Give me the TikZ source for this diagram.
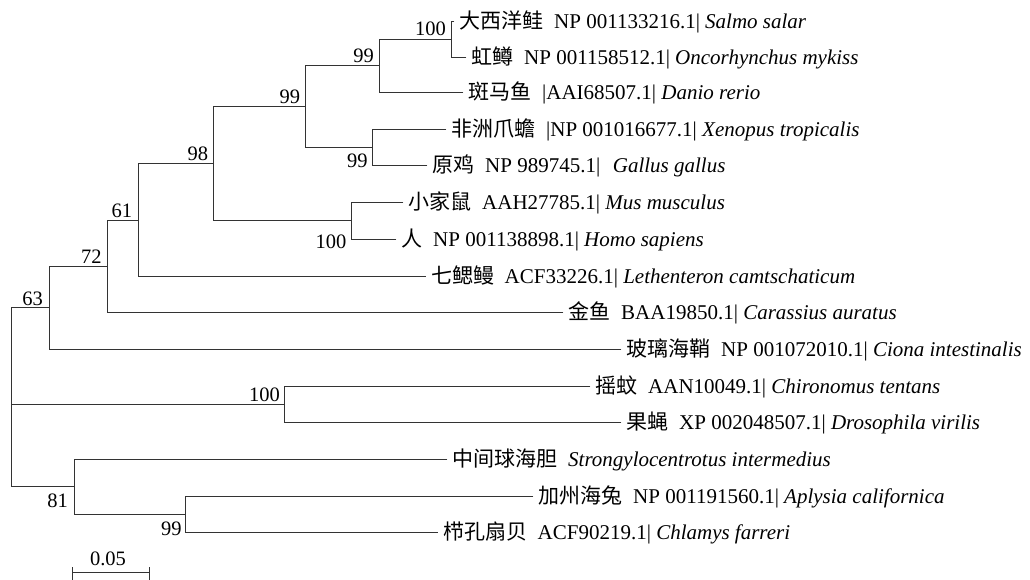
\documentclass[tikz,border=0pt]{standalone}
\usepackage{fontspec}
\setmainfont{Liberation Serif}
\newfontfamily\cjk{Noto Sans CJK SC}
\begin{document}
\begin{tikzpicture}[x=1pt,y=-1pt,
  branch/.style={line width=0.9pt, draw=black!80, line cap=rect},
  leaf/.style={anchor=base west, inner sep=0pt, font=\fontsize{21}{24}\selectfont, xshift=5.5pt, yshift=-7pt},
  boot/.style={anchor=base east, inner sep=0pt, font=\fontsize{20.5}{24}\selectfont}]
\useasboundingbox (0,0) rectangle (1030,579);
% internal nodes
\coordinate (A) at (451,39);
\coordinate (B) at (379,65.5);
\coordinate (D) at (372.7,147);
\coordinate (C) at (305.7,106);
\coordinate (F) at (351,220.5);
\coordinate (E) at (213.7,163.5);
\coordinate (G) at (138.3,220);
\coordinate (H) at (107.3,266);
\coordinate (I) at (49,307.5);
\coordinate (J) at (284,404);
\coordinate (L) at (185.7,514);
\coordinate (K) at (74,486.5);
\coordinate (R) at (11.5,404);
% leaves
\coordinate (l1) at (454,21);
\coordinate (l2) at (466,57);
\coordinate (l3) at (463,92);
\coordinate (l4) at (446,129);
\coordinate (l5) at (427,165);
\coordinate (l6) at (403,202);
\coordinate (l7) at (396,239);
\coordinate (l8) at (425.5,276);
\coordinate (l9) at (563,312);
\coordinate (l10) at (621,349);
\coordinate (l11) at (590,386);
\coordinate (l12) at (621,422);
\coordinate (l13) at (447,459);
\coordinate (l14) at (533,496);
\coordinate (l15) at (437.5,532);
% branches
\draw[branch] (A) |- (l1);
\draw[branch] (A) |- (l2);
\draw[branch] (B) |- (A);
\draw[branch] (B) |- (l3);
\draw[branch] (D) |- (l4);
\draw[branch] (D) |- (l5);
\draw[branch] (C) |- (B);
\draw[branch] (C) |- (D);
\draw[branch] (F) |- (l6);
\draw[branch] (F) |- (l7);
\draw[branch] (E) |- (C);
\draw[branch] (E) |- (F);
\draw[branch] (G) |- (E);
\draw[branch] (G) |- (l8);
\draw[branch] (H) |- (G);
\draw[branch] (H) |- (l9);
\draw[branch] (I) |- (H);
\draw[branch] (I) |- (l10);
\draw[branch] (J) |- (l11);
\draw[branch] (J) |- (l12);
\draw[branch] (L) |- (l14);
\draw[branch] (L) |- (l15);
\draw[branch] (K) |- (l13);
\draw[branch] (K) |- (L);
\draw[branch] (R) |- (I);
\draw[branch] (R) |- (J);
\draw[branch] (R) |- (K);
% leaf labels
\node[leaf] (t1) at (l1) {{\cjk 大西洋鲑}\hspace{0.5em}NP 001133216.1| \textit{Salmo salar}};
\node[leaf] (t2) at (l2) {{\cjk 虹鳟}\hspace{0.5em}NP 001158512.1| \textit{Oncorhynchus mykiss}};
\node[leaf] (t3) at (l3) {{\cjk 斑马鱼}\hspace{0.5em}|AAI68507.1| \textit{Danio rerio}};
\node[leaf] (t4) at (l4) {{\cjk 非洲爪蟾}\hspace{0.5em}|NP 001016677.1| \textit{Xenopus tropicalis}};
\node[leaf] (t5) at (l5) {{\cjk 原鸡}\hspace{0.5em}NP 989745.1|\hspace{0.6em}\textit{Gallus gallus}};
\node[leaf] (t6) at (l6) {{\cjk 小家鼠}\hspace{0.5em}AAH27785.1| \textit{Mus musculus}};
\node[leaf] (t7) at (l7) {{\cjk 人}\hspace{0.5em}NP 001138898.1| \textit{Homo sapiens}};
\node[leaf] (t8) at (l8) {{\cjk 七鳃鳗}\hspace{0.5em}ACF33226.1| \textit{Lethenteron camtschaticum}};
\node[leaf] (t9) at (l9) {{\cjk 金鱼}\hspace{0.5em}BAA19850.1| \textit{Carassius auratus}};
\node[leaf] (t10) at (l10) {{\cjk 玻璃海鞘}\hspace{0.5em}NP 001072010.1| \textit{Ciona intestinalis}};
\node[leaf] (t11) at (l11) {{\cjk 摇蚊}\hspace{0.5em}AAN10049.1| \textit{Chironomus tentans}};
\node[leaf] (t12) at (l12) {{\cjk 果蝇}\hspace{0.5em}XP 002048507.1| \textit{Drosophila virilis}};
\node[leaf] (t13) at (l13) {{\cjk 中间球海胆}\hspace{0.5em}\textit{Strongylocentrotus intermedius}};
\node[leaf] (t14) at (l14) {{\cjk 加州海兔}\hspace{0.5em}NP 001191560.1| \textit{Aplysia californica}};
\node[leaf] (t15) at (l15) {{\cjk 栉孔扇贝}\hspace{0.5em}ACF90219.1| \textit{Chlamys farreri}};
% bootstrap values
\node[boot] (bA) at ([xshift=-5pt,yshift=3.5pt]A) {100};
\node[boot] (bB) at ([xshift=-5pt,yshift=3pt]B) {99};
\node[boot] (bC) at ([xshift=-5.5pt,yshift=3pt]C) {99};
\node[boot] (bD) at ([xshift=-5pt,yshift=-20pt]D) {99};
\node[boot] (bE) at ([xshift=-5.5pt,yshift=3pt]E) {98};
\node[boot] (bF) at ([xshift=-4.5pt,yshift=-27.5pt]F) {100};
\node[boot] (bG) at ([xshift=-6pt,yshift=3pt]G) {61};
\node[boot] (bH) at ([xshift=-5.5pt,yshift=3pt]H) {72};
\node[boot] (bI) at ([xshift=-6pt,yshift=2.5pt]I) {63};
\node[boot] (bJ) at ([xshift=-4pt,yshift=2.5pt]J) {100};
\node[boot] (bK) at ([xshift=-6pt,yshift=-20.5pt]K) {81};
\node[boot] (bL) at ([xshift=-4pt,yshift=-21pt]L) {99};
% scale bar
\coordinate (sL) at (72.3,572.5);
\coordinate (sR) at (149.3,572.5);
\draw[branch, line cap=butt] (sL) -- (sR);
\draw[branch, line cap=butt] ([yshift=5.5pt]sL) -- ([yshift=-7pt]sL);
\draw[branch, line cap=butt] ([yshift=5.5pt]sR) -- ([yshift=-7pt]sR);
\node[boot, anchor=base] (sbt) at (108,565) {0.05};
\end{tikzpicture}
\end{document}
